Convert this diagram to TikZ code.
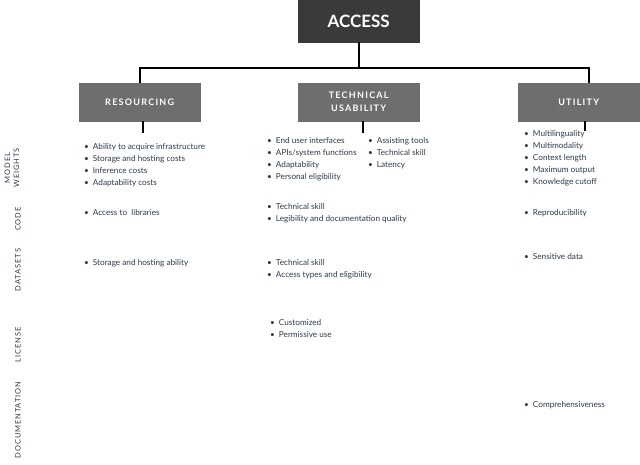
\documentclass[tikz,border=0pt]{standalone}
\usepackage{fontspec}
\setmainfont{Lato}
\definecolor{dark}{HTML}{3A3A3A}
\definecolor{mid}{HTML}{6E6E6E}
\definecolor{txt}{HTML}{2B3A4A}
\begin{document}
\begin{tikzpicture}[x=1pt,y=-1pt,
  box/.style={draw=mid,fill=mid,text=white,font=\bfseries\fontsize{9}{13}\selectfont\addfontfeatures{LetterSpace=14},minimum width=121pt,minimum height=38pt,anchor=north west,inner sep=0pt,align=center},
  lst/.style={anchor=north west,inner sep=0pt,align=left,text=txt,font=\fontsize{8.2}{12}\selectfont},
  row/.style={rotate=90,text=txt,font=\fontsize{7.5}{9}\selectfont\addfontfeatures{LetterSpace=12},align=center},
  ln/.style={line width=2pt}]
\fill[white] (0,0) rectangle (640,464);
\node[box,fill=dark,draw=dark,minimum height=42pt,font=\bfseries\fontsize{17}{19}\selectfont] (acc) at (298,0) {ACCESS};
\node[box] (res) at (79,83) {RESOURCING};
\node[box] (tec) at (298,83) {TECHNICAL\\USABILITY};
\node[box] (uti) at (518,83) {UTILITY};
\coordinate (hl) at (140,68); \coordinate (hr) at (589,68);
\draw[ln] (acc.south) -- (acc.south|-hl);
\draw[ln] (res.north-|hl) |- (hr) -- (uti.north-|hr);
\coordinate (rs) at (143,133); \coordinate (ts) at (363,133); \coordinate (us) at (585,131);
\draw[ln] (res.south-|rs) -- (rs);
\draw[ln] (tec.south-|ts) -- (ts);
\draw[ln] (uti.south-|us) -- (us);
\node[row] (r1) at (12,168) {MODEL\\WEIGHTS};
\node[row] (r2) at (18,219) {CODE};
\node[row] (r3) at (18,270) {DATASETS};
\node[row] (r4) at (18,345) {LICENSE};
\node[row] (r5) at (18,420) {DOCUMENTATION};
\newcommand\bl{\textbullet\hspace{4pt}}
\node[lst] (a1) at (84,143) {\bl Ability to acquire infrastructure\\\bl Storage and hosting costs\\\bl Inference costs\\\bl Adaptability costs};
\node[lst] (a2) at (267,137) {\bl End user interfaces\\\bl APIs/system functions\\\bl Adaptability\\\bl Personal eligibility};
\node[lst] (a3) at (368,137) {\bl Assisting tools\\\bl Technical skill\\\bl Latency};
\node[lst] (a4) at (524,130) {\bl Multilinguality\\\bl Multimodality\\\bl Context length\\\bl Maximum output\\\bl Knowledge cutoff};
\node[lst] (b1) at (84,209) {\bl Access to\ \ libraries};
\node[lst] (b2) at (267,203) {\bl Technical skill\\\bl Legibility and documentation quality};
\node[lst] (b3) at (524,209) {\bl Reproducibility};
\node[lst] (c1) at (84,259) {\bl Storage and hosting ability};
\node[lst] (c2) at (267,259) {\bl Technical skill\\\bl Access types and eligibility};
\node[lst] (c3) at (524,253) {\bl Sensitive data};
\node[lst] (d1) at (270,319) {\bl Customized\\\bl Permissive use};
\node[lst] (e1) at (524,401) {\bl Comprehensiveness};
\end{tikzpicture}
\end{document}
